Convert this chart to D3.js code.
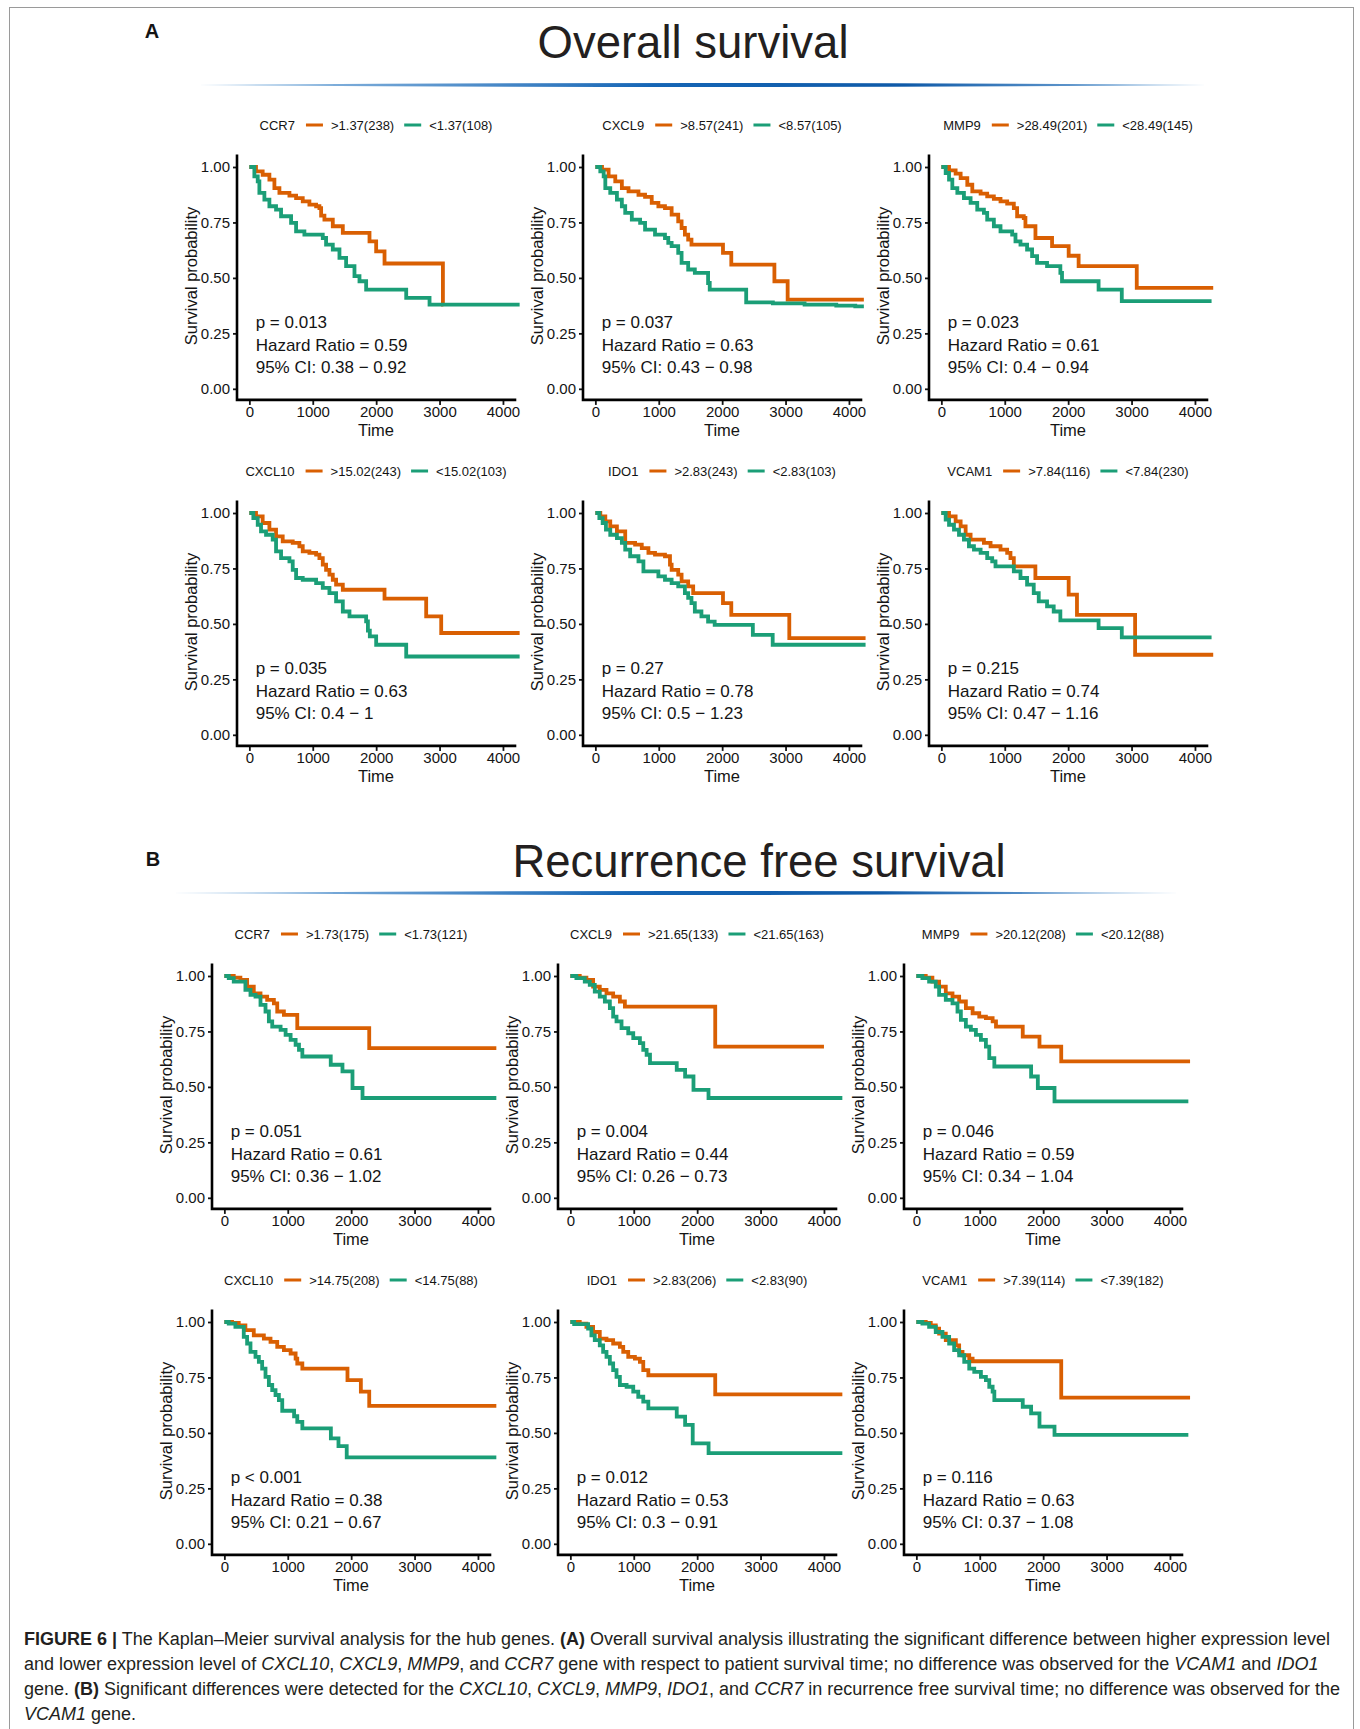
<!DOCTYPE html>
<html>
<head>
<meta charset="utf-8">
<script src="https://cdn.jsdelivr.net/npm/d3@7/dist/d3.min.js"></script>
<style>
  body { margin: 0; background: #fff; }
  svg { display: block; font-family: 'Liberation Sans', Arial, sans-serif; }
</style>
</head>
<body>
<div id="chart"></div>
<script>
// ---- panel labels (Overall survival, section A) ----
const osGenes = ['CCR7', 'CXCL9', 'MMP9', 'CXCL10', 'IDO1', 'VCAM1'];
const osHiLabels = ['>1.37(238)', '>8.57(241)', '>28.49(201)', '>15.02(243)', '>2.83(243)', '>7.84(116)'];
const osLoLabels = ['<1.37(108)', '<8.57(105)', '<28.49(145)', '<15.02(103)', '<2.83(103)', '<7.84(230)'];
const osP = ['p = 0.013', 'p = 0.037', 'p = 0.023', 'p = 0.035', 'p = 0.27', 'p = 0.215'];
const osHR = ['0.59', '0.63', '0.61', '0.63', '0.78', '0.74'];
const osCI = ['0.38 − 0.92', '0.43 − 0.98', '0.4 − 0.94', '0.4 − 1', '0.5 − 1.23', '0.47 − 1.16'];

// ---- panel labels (Recurrence free survival, section B) ----
const rfsGenes = ['CCR7', 'CXCL9', 'MMP9', 'CXCL10', 'IDO1', 'VCAM1'];
const rfsHiLabels = ['>1.73(175)', '>21.65(133)', '>20.12(208)', '>14.75(208)', '>2.83(206)', '>7.39(114)'];
const rfsLoLabels = ['<1.73(121)', '<21.65(163)', '<20.12(88)', '<14.75(88)', '<2.83(90)', '<7.39(182)'];
const rfsP = ['p = 0.051', 'p = 0.004', 'p = 0.046', 'p < 0.001', 'p = 0.012', 'p = 0.116'];
const rfsHR = ['0.61', '0.44', '0.59', '0.38', '0.53', '0.63'];
const rfsCI = ['0.36 − 1.02', '0.26 − 0.73', '0.34 − 1.04', '0.21 − 0.67', '0.3 − 0.91', '0.37 − 1.08'];

// ---- KM curves: [time, survival] after each step ----
const osCcr7Hi = [[0,1],[105,0.98],[210,0.965],[316,0.943],[395,0.905],[474,0.883],[632,0.871],[737,0.86],[842,0.845],[947,0.83],[1053,0.823],[1105,0.815],[1132,0.781],[1184,0.763],[1316,0.733],[1474,0.703],[1895,0.665],[2000,0.62],[2132,0.565],[3053,0.38],[3060,0.38]];
const osCcr7Lo = [[0,1],[79,0.958],[132,0.935],[158,0.883],[237,0.853],[316,0.823],[421,0.808],[500,0.778],[658,0.748],[737,0.71],[868,0.695],[1158,0.68],[1210,0.65],[1316,0.628],[1421,0.59],[1526,0.553],[1658,0.508],[1737,0.485],[1842,0.447],[2474,0.41],[2842,0.38],[4263,0.38]];
const osCxcl9Hi = [[0,1],[105,0.988],[209,0.958],[314,0.935],[418,0.905],[523,0.89],[680,0.875],[784,0.865],[889,0.838],[994,0.823],[1098,0.815],[1203,0.785],[1307,0.755],[1360,0.725],[1412,0.695],[1464,0.673],[1516,0.65],[2013,0.613],[2144,0.56],[2824,0.485],[3033,0.402],[4235,0.402]];
const osCxcl9Lo = [[0,1],[78,0.98],[131,0.958],[157,0.905],[235,0.883],[340,0.853],[418,0.823],[471,0.793],[575,0.763],[706,0.748],[784,0.718],[941,0.695],[1098,0.68],[1150,0.658],[1203,0.643],[1307,0.613],[1360,0.568],[1464,0.538],[1569,0.523],[1778,0.477],[1804,0.447],[2379,0.39],[2800,0.385],[3300,0.38],[3800,0.375],[4100,0.372],[4235,0.372]];
const osMmp9Hi = [[0,1],[121,0.985],[225,0.97],[304,0.95],[409,0.92],[488,0.89],[619,0.88],[723,0.868],[828,0.856],[933,0.845],[1038,0.835],[1143,0.815],[1195,0.778],[1300,0.77],[1326,0.733],[1484,0.68],[1746,0.643],[2008,0.6],[2165,0.553],[3082,0.455],[4288,0.455]];
const osMmp9Lo = [[0,1],[68,0.973],[121,0.943],[173,0.905],[252,0.883],[356,0.86],[461,0.838],[566,0.808],[671,0.793],[723,0.763],[828,0.733],[933,0.71],[1117,0.695],[1169,0.665],[1248,0.65],[1352,0.628],[1431,0.598],[1510,0.568],[1667,0.553],[1877,0.523],[1903,0.485],[2480,0.447],[2846,0.395],[4262,0.395]];
const osCxcl10Hi = [[0,1],[105,0.985],[210,0.955],[316,0.925],[421,0.895],[526,0.872],[684,0.865],[789,0.85],[842,0.827],[947,0.82],[1053,0.812],[1105,0.797],[1158,0.767],[1210,0.744],[1263,0.722],[1316,0.699],[1368,0.677],[1474,0.654],[2132,0.614],[2789,0.534],[3026,0.459],[4263,0.459]];
const osCxcl10Lo = [[0,1],[63,0.977],[132,0.947],[184,0.917],[263,0.902],[368,0.88],[421,0.827],[500,0.797],[632,0.782],[684,0.744],[737,0.707],[842,0.699],[1053,0.684],[1158,0.662],[1263,0.639],[1368,0.602],[1474,0.556],[1579,0.534],[1842,0.511],[1870,0.47],[1900,0.444],[2000,0.406],[2474,0.353],[4263,0.353]];
const osIdo1Hi = [[0,1],[78,0.985],[157,0.962],[235,0.94],[340,0.917],[471,0.865],[627,0.857],[732,0.842],[837,0.82],[941,0.812],[1098,0.805],[1177,0.767],[1203,0.744],[1307,0.722],[1360,0.692],[1464,0.669],[1543,0.639],[2013,0.594],[2144,0.541],[3059,0.436],[4262,0.436]];
const osIdo1Lo = [[0,1],[63,0.977],[115,0.955],[167,0.925],[235,0.902],[340,0.887],[418,0.865],[471,0.835],[549,0.805],[680,0.782],[758,0.737],[994,0.714],[1098,0.699],[1203,0.684],[1307,0.669],[1412,0.639],[1464,0.617],[1516,0.594],[1569,0.556],[1673,0.534],[1778,0.51],[1882,0.496],[2484,0.451],[2797,0.406],[4262,0.406]];
const osVcam1Hi = [[0,1],[121,0.985],[225,0.962],[304,0.94],[383,0.902],[461,0.88],[671,0.865],[776,0.85],[933,0.835],[1038,0.82],[1090,0.797],[1143,0.759],[1483,0.707],[2008,0.632],[2139,0.541],[3056,0.361],[4288,0.361]];
const osVcam1Lo = [[0,1],[68,0.97],[121,0.947],[199,0.925],[278,0.902],[356,0.88],[435,0.85],[514,0.835],[619,0.82],[723,0.797],[802,0.782],[854,0.759],[1143,0.737],[1248,0.707],[1352,0.677],[1457,0.639],[1536,0.602],[1667,0.579],[1772,0.556],[1877,0.516],[2480,0.481],[2846,0.439],[4262,0.439]];

const rfsCcr7Hi = [[0,1],[148,0.993],[253,0.982],[359,0.952],[464,0.922],[570,0.907],[675,0.892],[781,0.877],[834,0.84],[939,0.825],[1150,0.765],[2285,0.675],[4290,0.675]];
const rfsCcr7Lo = [[0,1],[69,0.99],[148,0.975],[332,0.937],[412,0.915],[491,0.907],[570,0.87],[649,0.84],[702,0.795],[755,0.772],[887,0.757],[966,0.735],[1045,0.712],[1124,0.69],[1177,0.667],[1230,0.637],[1678,0.6],[1863,0.57],[2021,0.495],[2179,0.45],[4290,0.45]];
const rfsCxcl9Hi = [[0,1],[148,0.993],[253,0.982],[359,0.952],[464,0.937],[570,0.922],[675,0.907],[781,0.885],[860,0.862],[2285,0.682],[4000,0.682]];
const rfsCxcl9Lo = [[0,1],[95,0.99],[227,0.975],[306,0.96],[385,0.93],[464,0.907],[544,0.885],[623,0.855],[675,0.817],[728,0.795],[807,0.765],[913,0.742],[992,0.72],[1097,0.697],[1150,0.667],[1203,0.645],[1256,0.607],[1678,0.577],[1810,0.547],[1942,0.487],[2179,0.45],[4290,0.45]];
const rfsMmp9Hi = [[0,1],[148,0.993],[253,0.975],[359,0.952],[464,0.922],[570,0.907],[675,0.885],[781,0.855],[887,0.832],[992,0.817],[1097,0.81],[1203,0.795],[1256,0.772],[1678,0.727],[1942,0.682],[2285,0.615],[4317,0.615]];
const rfsMmp9Lo = [[0,1],[95,0.99],[201,0.975],[306,0.952],[359,0.915],[464,0.892],[570,0.877],[649,0.84],[702,0.802],[781,0.772],[860,0.757],[939,0.735],[1018,0.712],[1097,0.682],[1150,0.63],[1230,0.592],[1810,0.547],[1916,0.495],[2179,0.435],[4290,0.435]];
const rfsCxcl10Hi = [[0,1],[121,0.996],[227,0.985],[332,0.963],[464,0.94],[623,0.925],[728,0.91],[834,0.888],[939,0.873],[1045,0.858],[1124,0.835],[1150,0.813],[1230,0.79],[1942,0.738],[2153,0.686],[2285,0.622],[4290,0.622]];
const rfsCxcl10Lo = [[0,1],[69,0.993],[174,0.978],[306,0.933],[359,0.903],[412,0.865],[491,0.843],[544,0.82],[596,0.79],[649,0.753],[702,0.716],[755,0.693],[807,0.671],[860,0.648],[913,0.6],[1100,0.575],[1150,0.55],[1230,0.52],[1680,0.475],[1800,0.44],[1930,0.39],[4290,0.39]];
const rfsIdo1Hi = [[0,1],[148,0.993],[253,0.978],[359,0.955],[464,0.925],[570,0.918],[675,0.903],[781,0.888],[834,0.865],[913,0.843],[1018,0.835],[1097,0.82],[1150,0.783],[1230,0.76],[2285,0.674],[4290,0.674]];
const rfsIdo1Lo = [[0,1],[60,0.99],[280,0.97],[332,0.94],[385,0.918],[464,0.895],[517,0.865],[570,0.843],[623,0.813],[675,0.783],[728,0.753],[781,0.716],[887,0.708],[992,0.686],[1071,0.663],[1150,0.641],[1230,0.611],[1678,0.573],[1810,0.536],[1930,0.453],[2180,0.409],[4290,0.409]];
const rfsVcam1Hi = [[0,1],[148,0.996],[227,0.985],[306,0.97],[359,0.948],[464,0.918],[623,0.895],[675,0.865],[728,0.85],[834,0.835],[887,0.823],[2285,0.659],[4317,0.659]];
const rfsVcam1Lo = [[0,1],[95,0.993],[201,0.978],[306,0.955],[412,0.933],[517,0.903],[596,0.873],[675,0.85],[755,0.82],[834,0.79],[913,0.775],[1018,0.753],[1097,0.738],[1150,0.708],[1203,0.686],[1230,0.648],[1678,0.618],[1810,0.588],[1942,0.528],[2179,0.491],[4290,0.491]];

const yTicks = [0, 0.25, 0.5, 0.75, 1];
const xTicks = [0, 1000, 2000, 3000, 4000];

const osHiCurves = [osCcr7Hi, osCxcl9Hi, osMmp9Hi, osCxcl10Hi, osIdo1Hi, osVcam1Hi];
const osLoCurves = [osCcr7Lo, osCxcl9Lo, osMmp9Lo, osCxcl10Lo, osIdo1Lo, osVcam1Lo];
const rfsHiCurves = [rfsCcr7Hi, rfsCxcl9Hi, rfsMmp9Hi, rfsCxcl10Hi, rfsIdo1Hi, rfsVcam1Hi];
const rfsLoCurves = [rfsCcr7Lo, rfsCxcl9Lo, rfsMmp9Lo, rfsCxcl10Lo, rfsIdo1Lo, rfsVcam1Lo];

const hiColor = '#d95f02';
const loColor = '#1b9e77';
const ink = '#141414';

const fullWidth = 1360;
const fullHeight = 1729;
const plotW = 278;
const plotH = 244;

const svg = d3.select('#chart')
  .append('svg')
  .attr('width', fullWidth)
  .attr('height', fullHeight);

svg.append('rect')
  .attr('width', fullWidth)
  .attr('height', fullHeight)
  .attr('fill', '#fff');

// outer frame of the figure
svg.append('rect')
  .attr('x', 9.5).attr('y', 7.5)
  .attr('width', 1344).attr('height', 1760)
  .attr('fill', 'none')
  .attr('stroke', '#9a9a9a')
  .attr('stroke-width', 1);

const defs = svg.append('defs');
const grad = defs.append('linearGradient')
  .attr('id', 'rule')
  .attr('x1', '0%').attr('x2', '100%');
grad.append('stop').attr('offset', '0%').attr('stop-color', '#a9cbe9');
grad.append('stop').attr('offset', '45%').attr('stop-color', '#1565b5');
grad.append('stop').attr('offset', '70%').attr('stop-color', '#0f5aa8');
grad.append('stop').attr('offset', '100%').attr('stop-color', '#9cc3e6');

function sectionHeader(letter, title, letterX, letterY, titleX, titleY, x1, x2, ruleY) {
  svg.append('text')
    .attr('x', letterX).attr('y', letterY)
    .attr('font-size', 20).attr('font-weight', 'bold')
    .attr('fill', ink)
    .attr('text-anchor', 'middle')
    .text(letter);
  svg.append('text')
    .attr('x', titleX).attr('y', titleY)
    .attr('font-size', 45.5)
    .attr('fill', '#231f20')
    .attr('text-anchor', 'middle')
    .text(title);
  const mid = (x1 + x2) / 2;
  svg.append('path')
    .attr('d', `M${x1},${ruleY} Q${mid},${ruleY - 4} ${x2},${ruleY} Q${mid},${ruleY + 4} ${x1},${ruleY}Z`)
    .attr('fill', 'url(#rule)');
}

sectionHeader('A', 'Overall survival', 152, 38, 693, 58, 198, 1208, 85);
sectionHeader('B', 'Recurrence free survival', 153, 866, 759, 877, 171, 1180, 893);

const xScale = d3.scaleLinear().domain([-195, 4190]).range([0, plotW]);
const yScale = d3.scaleLinear().domain([-0.05, 1.05]).range([plotH, 0]);

const kmLine = d3.line()
  .x(d => xScale(d[0]))
  .y(d => yScale(d[1]))
  .curve(d3.curveStepAfter);

function drawPanel(left, top, gene, hiLabel, loLabel, p, hr, ci, hi, lo) {
  const g = svg.append('g').attr('transform', `translate(${left}, ${top})`);

  // axes
  const yAxis = d3.axisLeft(yScale)
    .tickValues(yTicks)
    .tickFormat(d3.format('.2f'))
    .tickSize(4)
    .tickPadding(3)
    .tickSizeOuter(0);
  const xAxis = d3.axisBottom(xScale)
    .tickValues(xTicks)
    .tickFormat(d3.format('d'))
    .tickSize(5)
    .tickPadding(1.5)
    .tickSizeOuter(0);

  const ya = g.append('g').call(yAxis);
  const xa = g.append('g').attr('transform', `translate(0, ${plotH})`).call(xAxis);
  [ya, xa].forEach(a => {
    a.attr('font-size', null).attr('font-family', null);
    a.select('.domain').remove();
    a.selectAll('line').attr('stroke', ink).attr('stroke-width', 1.8);
    a.selectAll('text').attr('font-size', 15).attr('fill', ink);
  });

  g.append('path')
    .attr('d', `M0,0 V${plotH} H${plotW}`)
    .attr('fill', 'none')
    .attr('stroke', '#000')
    .attr('stroke-width', 2.6)
    .attr('stroke-linecap', 'square');

  // curves
  g.append('path').datum(hi)
    .attr('d', kmLine)
    .attr('fill', 'none')
    .attr('stroke', hiColor)
    .attr('stroke-width', 3.8);
  g.append('path').datum(lo)
    .attr('d', kmLine)
    .attr('fill', 'none')
    .attr('stroke', loColor)
    .attr('stroke-width', 3.8);

  // stats
  const stats = [p, `Hazard Ratio = ${hr}`, `95% CI: ${ci}`];
  g.selectAll('text.stat')
    .data(stats)
    .enter()
    .append('text')
    .attr('class', 'stat')
    .attr('x', xScale(100))
    .attr('y', (d, i) => yScale(0.3 - i * 0.1))
    .attr('dy', '0.36em')
    .attr('font-size', 17)
    .attr('fill', ink)
    .text(d => d);

  // axis titles
  g.append('text')
    .attr('transform', `translate(-46, ${plotH / 2 - 2}) rotate(-90)`)
    .attr('text-anchor', 'middle')
    .attr('dy', '0.36em')
    .attr('font-size', 16.5)
    .attr('fill', ink)
    .text('Survival probability');
  g.append('text')
    .attr('x', plotW / 2)
    .attr('y', plotH + 30)
    .attr('dy', '0.36em')
    .attr('text-anchor', 'middle')
    .attr('font-size', 16.5)
    .attr('fill', ink)
    .text('Time');

  // legend (centred over the panel)
  const lg = g.append('g');
  let cx = 0;
  const addText = (t) => {
    const el = lg.append('text').attr('x', cx).attr('dy', '0.36em')
      .attr('font-size', 13).attr('fill', ink).text(t);
    cx += el.node().getComputedTextLength();
  };
  const addKey = (color) => {
    lg.append('line').attr('x1', cx).attr('x2', cx + 17)
      .attr('stroke', color).attr('stroke-width', 3);
    cx += 17;
  };
  addText(gene); cx += 11;
  addKey(hiColor); cx += 8;
  addText(hiLabel); cx += 10;
  addKey(loColor); cx += 8;
  addText(loLabel);
  const shift = plotW / 2 - cx / 2;
  lg.attr('transform', `translate(${shift}, ${yScale(1) - 42})`);
}

const osLefts = [237, 583, 929];
const osTops = [167, 513];
const rfsLefts = [212, 558, 904];
const rfsTops = [976, 1322];
const y1Offset = yScale(1);

osGenes.forEach((gene, i) => {
  const left = osLefts[i % 3];
  const top = osTops[Math.floor(i / 3)] - y1Offset;
  drawPanel(left, top, gene, osHiLabels[i], osLoLabels[i], osP[i], osHR[i], osCI[i], osHiCurves[i], osLoCurves[i]);
});
rfsGenes.forEach((gene, i) => {
  const left = rfsLefts[i % 3];
  const top = rfsTops[Math.floor(i / 3)] - y1Offset;
  drawPanel(left, top, gene, rfsHiLabels[i], rfsLoLabels[i], rfsP[i], rfsHR[i], rfsCI[i], rfsHiCurves[i], rfsLoCurves[i]);
});

// caption
const caption = [
  [['FIGURE 6 |', 'b'], [' The Kaplan–Meier survival analysis for the hub genes. ', ''], ['(A)', 'b'], [' Overall survival analysis illustrating the significant difference between higher expression level', '']],
  [['and lower expression level of ', ''], ['CXCL10', 'i'], [', ', ''], ['CXCL9', 'i'], [', ', ''], ['MMP9', 'i'], [', and ', ''], ['CCR7', 'i'], [' gene with respect to patient survival time; no difference was observed for the ', ''], ['VCAM1', 'i'], [' and ', ''], ['IDO1', 'i']],
  [['gene. ', ''], ['(B)', 'b'], [' Significant differences were detected for the ', ''], ['CXCL10', 'i'], [', ', ''], ['CXCL9', 'i'], [', ', ''], ['MMP9', 'i'], [', ', ''], ['IDO1', 'i'], [', and ', ''], ['CCR7', 'i'], [' in recurrence free survival time; no difference was observed for the', '']],
  [['VCAM1', 'i'], [' gene.', '']]
];
const captionY = [1645, 1670, 1695, 1720];

caption.forEach((line, i) => {
  const t = svg.append('text')
    .attr('x', 24)
    .attr('y', captionY[i])
    .attr('font-size', 18)
    .attr('fill', '#231f20')
    .attr('xml:space', 'preserve');
  line.forEach(([s, style]) => {
    t.append('tspan')
      .attr('font-weight', style === 'b' ? 'bold' : null)
      .attr('font-style', style === 'i' ? 'italic' : null)
      .text(s);
  });
});
</script>
</body>
</html>
